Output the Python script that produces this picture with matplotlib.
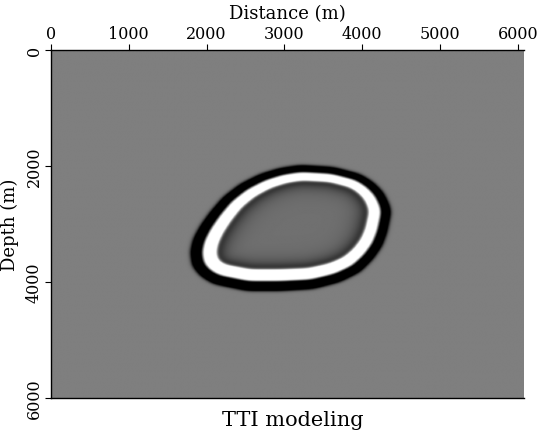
import numpy as np
import matplotlib.pyplot as plt
from matplotlib.path import Path

# outer edge of the black band of the wavefront (m)
front_x = [3201, 3625, 3972, 4139, 4267, 4344, 4370, 4319, 4254, 4139, 3972, 3715, 3368,
           2943, 2519, 2082, 1915, 1812, 1787, 1825, 1915, 2044, 2211, 2429, 2686, 2943]
front_z = [1983, 2017, 2138, 2276, 2448, 2655, 2793, 3138, 3379, 3603, 3828, 4000, 4121,
           4155, 4155, 4034, 3897, 3724, 3483, 3259, 3034, 2793, 2534, 2310, 2138, 2034]
# thickness of the black band at each of those points (m)
black_width = [120, 118, 118, 120, 122, 125, 128, 130, 135, 140, 150, 158, 165,
               170, 170, 165, 160, 155, 152, 150, 145, 140, 135, 130, 125, 122]

x_max = 6075
z_max = 6000
x_ticks = [0, 1000, 2000, 3000, 4000, 5000, 6000]
z_ticks = [0, 2000, 4000, 6000]


def sig(a, e=30.0):
	return 0.5 * (1 + np.tanh(a / e))


def blur(F, sigma):
	# separable gaussian, edge padded
	r = int(3 * sigma)
	k = np.exp(-0.5 * (np.arange(-r, r + 1) / sigma) ** 2)
	k /= k.sum()
	F = np.pad(F, r, mode="edge")
	F = np.apply_along_axis(lambda a: np.convolve(a, k, mode="same"), 0, F)
	F = np.apply_along_axis(lambda a: np.convolve(a, k, mode="same"), 1, F)
	return F[r:-r, r:-r]


def snapshot(nx=608, nz=600):
	xs = np.linspace(0, x_max, nx)
	zs = np.linspace(0, z_max, nz)
	X, Z = np.meshgrid(xs, zs)
	G = np.column_stack([X.ravel(), Z.ravel()])
	P = np.column_stack([front_x, front_z]).astype(float)
	W = np.array(black_width, dtype=float)
	A = P
	B = np.roll(P, -1, axis=0)
	WB = np.roll(W, -1)
	best = np.full(len(G), np.inf)
	wid = np.zeros(len(G))
	for i in range(len(P)):
		d = B[i] - A[i]
		t = ((G - A[i]) @ d) / (d @ d)
		t = np.clip(t, 0, 1)
		q = A[i] + t[:, None] * d
		dist = np.hypot(G[:, 0] - q[:, 0], G[:, 1] - q[:, 1])
		m = dist < best
		best[m] = dist[m]
		wid[m] = W[i] * (1 - t[m]) + WB[i] * t[m]
	inside = Path(P).contains_points(G)
	s = np.where(inside, best, -best).reshape(nz, nx)
	wid = wid.reshape(nz, nx)
	# round off the corners of the outline
	s = blur(s, 6)
	wid = blur(wid, 6)
	wb = wid
	ww = 1.2 * wid
	black = sig(s) * sig(wb - s)
	white = sig(s - wb) * sig(wb + ww - s)
	inner = s - wb - ww
	shadow = 0.85 * np.exp(-np.clip(inner, 0, None) / 100.0) * sig(inner, 20)
	interior = 0.12 * sig(inner, 60)
	v = -1.6 * black + 1.6 * white - shadow - interior
	v = np.clip(v, -1, 1)
	v[np.abs(v) < 1e-3] = 0
	return v


img = snapshot()

fig = plt.figure(figsize=(5.39, 4.31), dpi=100)
ax = fig.add_axes([0.0946, 0.0742, 0.877, 0.8074])
ax.imshow(img, cmap="gray", vmin=-1, vmax=1.004, extent=[0, x_max, z_max, 0],
          aspect="auto", interpolation="bilinear")
ax.set_xlim(0, x_max)
ax.set_ylim(z_max, 0)

font = {"family": "DejaVu Serif"}
ax.xaxis.tick_top()
ax.xaxis.set_label_position("top")
ax.set_xticks(x_ticks)
ax.set_yticks(z_ticks)
ax.set_xticklabels([str(t) for t in x_ticks], fontsize=11.5, **font)
ax.set_yticklabels([str(t) for t in z_ticks], fontsize=11.5, rotation=90, va="center", **font)
ax.tick_params(direction="out", length=4, width=0.8, pad=2)
ax.set_xlabel("Distance (m)", fontsize=13, labelpad=5, **font)
ax.set_ylabel("Depth (m)", fontsize=13, labelpad=5, **font)
ax.spines["right"].set_visible(False)
for k in ["top", "left", "bottom"]:
	ax.spines[k].set_linewidth(1.0)
fig.text(0.544, 0.025, "TTI modeling", ha="center", va="center", fontsize=15, **font)

plt.savefig("out.png", dpi=100)
